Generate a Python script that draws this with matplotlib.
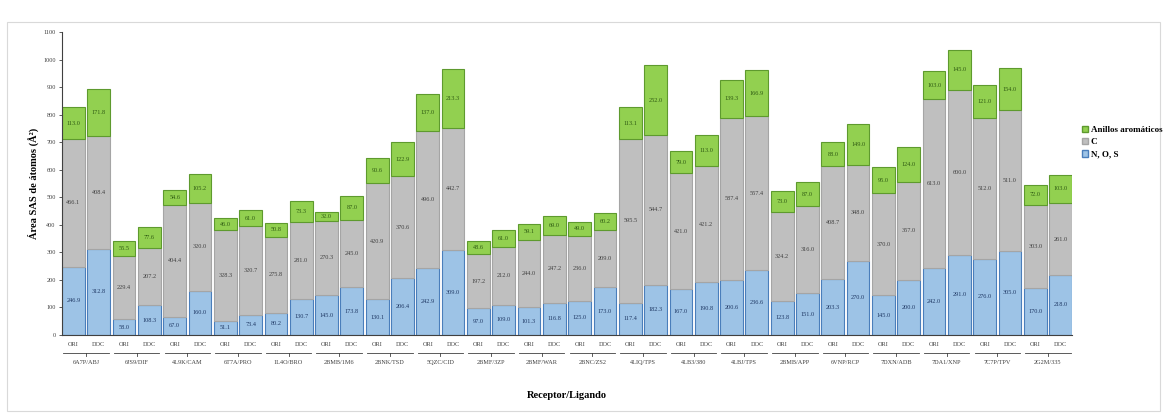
import numpy as np
import matplotlib.pyplot as plt
from matplotlib.patches import Rectangle, Patch

plt.rcParams['font.family'] = ['Liberation Serif', 'DejaVu Serif']

grupos = ['6A7P/ABJ', '6JS9/DIF', '4L9K/CAM', '6T7A/PRO', '1L4O/BRO',
          '2BMB/1M6', '2BNK/TSD', '5QZC/CID', '2BMF/3ZP', '2BMF/WAR',
          '2BNC/ZS2', '4LIQ/TPS', '4LB3/380', '4LBJ/TPS', '2BMB/APP',
          '6VNP/RCP', '7DXN/ADB', '7DA1/XNP', '7C7P/TPV', '2G2M/335']
subgrupos = ['ORI', 'DOC']

# Área SAS (Å²) por tipo de átomo: ORI = pose original, DOC = pose de docking
ori_nos = [246.9, 58.0, 67.0, 51.1, 80.2, 145.0, 130.1, 242.9, 97.0, 101.3,
           125.0, 117.4, 167.0, 200.6, 123.8, 203.3, 145.0, 242.0, 276.0, 170.0]
ori_c = [466.1, 229.4, 404.4, 328.3, 275.8, 270.3, 420.9, 496.0, 197.2, 244.0,
         236.0, 595.5, 421.0, 587.4, 324.2, 408.7, 370.0, 613.0, 512.0, 303.0]
ori_ar = [113.0, 55.5, 54.6, 46.0, 50.8, 32.0, 90.6, 137.0, 48.6, 59.1,
          49.0, 113.1, 79.0, 139.3, 73.0, 88.0, 95.0, 103.0, 121.0, 72.0]
doc_nos = [312.8, 108.3, 160.0, 73.4, 130.7, 173.8, 206.4, 309.0, 109.0, 116.8,
           173.0, 182.3, 190.8, 236.6, 151.0, 270.0, 200.0, 291.0, 305.0, 218.0]
doc_c = [408.4, 207.2, 320.0, 320.7, 281.0, 245.0, 370.6, 442.7, 212.0, 247.2,
         209.0, 544.7, 421.2, 557.4, 316.0, 348.0, 357.0, 600.0, 511.0, 261.0]
doc_ar = [171.8, 77.6, 105.2, 61.0, 73.3, 87.0, 122.9, 213.3, 61.0, 69.0,
          60.2, 252.0, 113.0, 166.9, 87.0, 149.0, 124.0, 145.0, 154.0, 103.0]

# intercalar ORI y DOC de cada receptor
nos = np.ravel(np.column_stack([ori_nos, doc_nos]))
c = np.ravel(np.column_stack([ori_c, doc_c]))
ar = np.ravel(np.column_stack([ori_ar, doc_ar]))
x = np.arange(len(nos))

col_nos, col_c, col_ar = '#9DC3E6', '#BFBFBF', '#92D050'
borde_nos, borde_c, borde_ar = '#4A7EBB', '#A5A5A5', '#5E9A2E'

fig = plt.figure(figsize=(11.65, 4.15), dpi=100)
ax = fig.add_axes([62 / 1165, 80 / 415, (1072 - 62) / 1165, 303 / 415])

w = 0.9
ax.bar(x, nos, w, color=col_nos, edgecolor=borde_nos, linewidth=0.8)
ax.bar(x, c, w, bottom=nos, color=col_c, edgecolor=borde_c, linewidth=0.8)
ax.bar(x, ar, w, bottom=nos + c, color=col_ar, edgecolor=borde_ar, linewidth=0.8)

for i in x:
    ax.text(i, nos[i] / 2, f'{nos[i]:.1f}', ha='center', va='center',
            fontsize=4.5, color='#1F3864')
    ax.text(i, nos[i] + c[i] / 2, f'{c[i]:.1f}', ha='center', va='center',
            fontsize=4.5, color='#404040')
    ax.text(i, nos[i] + c[i] + ar[i] / 2, f'{ar[i]:.1f}', ha='center',
            va='center', fontsize=4.5, color='#2E5A12')

ax.set_xlim(-w / 2, len(x) - 1 + w / 2)
ax.set_ylim(0, 1100)
ax.set_yticks(np.arange(0, 1101, 100))
ax.tick_params(axis='y', labelsize=4.5, length=2.5, width=0.6, pad=2,
               colors='#404040')
ax.set_xticks([])
for s in ['top', 'right']:
    ax.spines[s].set_visible(False)
ax.spines['left'].set_color('#404040')
ax.spines['bottom'].set_color('#404040')
ax.spines['left'].set_linewidth(0.8)
ax.spines['bottom'].set_linewidth(0.8)

# etiquetas de dos niveles en el eje x
trans = ax.get_xaxis_transform()
for i in x:
    ax.text(i, -0.033, subgrupos[i % 2], transform=trans, ha='center',
            va='center', fontsize=4.5, color='#404040')
for g, nombre in enumerate(grupos):
    x0, x1 = 2 * g - w / 2 + 0.05, 2 * g + 1 + w / 2 - 0.05
    xm = 2 * g + 0.5
    ax.plot([x0, x1], [-0.058, -0.058], transform=trans, color='#404040',
            lw=0.6, clip_on=False)
    ax.plot([xm, xm], [-0.058, -0.068], transform=trans, color='#404040',
            lw=0.6, clip_on=False)
    ax.text(xm, -0.09, nombre, transform=trans, ha='center', va='center',
            fontsize=4.5, color='#404040')

ax.set_xlabel('Receptor/Ligando', fontsize=7.5, fontweight='bold', labelpad=40)
ax.set_ylabel('Área SAS de átomos (Å²)', fontsize=7.5, fontweight='bold',
              labelpad=3)

handles = [Patch(facecolor=col_ar, edgecolor=borde_ar, label='Anillos aromáticos'),
           Patch(facecolor=col_c, edgecolor=borde_c, label='C'),
           Patch(facecolor=col_nos, edgecolor=borde_nos, label='N, O, S')]
fig.legend(handles=handles, loc='upper left', bbox_to_anchor=(1078 / 1165, 293 / 415),
           frameon=False, prop={'size': 6.5, 'weight': 'bold'},
           handlelength=0.7, handleheight=0.7, handletextpad=0.3,
           labelspacing=0.45, borderaxespad=0)

fig.patches.append(Rectangle((7 / 1165, 4 / 415), 1153 / 1165, 389 / 415,
                             transform=fig.transFigure, fill=False,
                             edgecolor='#D9D9D9', lw=0.8))

fig.savefig('out.png', dpi=100)
